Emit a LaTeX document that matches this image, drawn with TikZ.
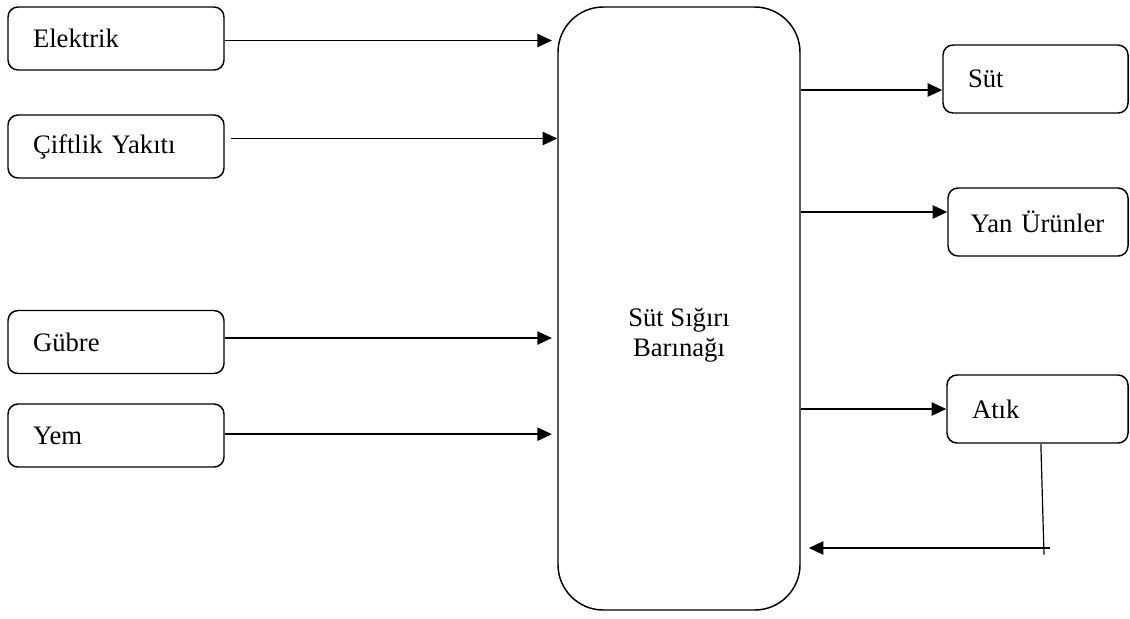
\documentclass[tikz,border=0pt]{standalone}
\usepackage{fontspec}
\setmainfont{Liberation Serif}
\usepackage{tikz}
\usepackage{xcolor}
\usetikzlibrary{arrows.meta}
\tikzset{
    input-box/.style = {draw=black, fill=white, line width=1.1pt, rectangle, rounded corners=7.5pt, minimum height=47.25pt, inner xsep=18.75pt, text width=124.5pt, align=left, font=\fontsize{20pt}{22.5pt}\selectfont},
    output-box/.style = {input-box, minimum height=51pt},
    barn-box/.style = {draw=black, fill=white, line width=1.1pt, rectangle, rounded corners=34pt, minimum width=181.5pt, minimum height=452.25pt},
    flow-arrow/.style = {line width=1.1pt, -{Triangle[length=11pt,width=10pt]}},
}

\begin{document}
\begin{tikzpicture}[x=0.75pt, y=-0.75pt]
\useasboundingbox (0,0) rectangle (1130,618);
% inputs
\node [input-box] (elektrik) at (116,38.5) {Elektrik};
\node [input-box] (yakit) at (116,146.5) {Çiftlik Yakıtı};
\node [input-box] (gubre) at (116,342) {Gübre};
\node [input-box] (yem) at (116,435.5) {Yem};
% barn
\node [barn-box] (barinak) at (679,308.5) {};
\node [align=center, font=\fontsize{20pt}{22.5pt}\selectfont] (barinak-text) at (679,335) {Süt Sığırı\\Barınağı};
% outputs
\node [output-box, text width=101.25pt] (sut) at (1035.5,79) {Süt};
\node [output-box, inner xsep=17pt, text width=101pt] (yan) at (1038,222) {Yan Ürünler};
\node [output-box, text width=98.25pt] (atik) at (1037.5,409) {Atık};
\coordinate (sut-in) at ([yshift=-8.25pt]sut.west);
\coordinate (yan-in) at ([yshift=7.5pt]yan.west);
\coordinate (donus) at (1042,548);

\draw [flow-arrow, shorten >=4pt] ([yshift=-1.5pt]elektrik.east) -- ([yshift=-1.5pt]elektrik.east -| barinak.west);
\draw [flow-arrow, shorten <=4.5pt] ([yshift=6pt]yakit.east) -- ([yshift=6pt]yakit.east -| barinak.west);
\draw [flow-arrow, shorten >=4pt] ([yshift=3pt]gubre.east) -- ([yshift=3pt]gubre.east -| barinak.west);
\draw [flow-arrow, shorten >=4pt] ([yshift=1pt]yem.east) -- ([yshift=1pt]yem.east -| barinak.west);

\draw [flow-arrow] (barinak.east |- sut-in) -- (sut-in);
\draw [flow-arrow] (barinak.east |- yan-in) -- (yan-in);
\draw [flow-arrow] (barinak.east |- atik.west) -- (atik.west);

% waste back to the barn
\draw [line width=0.9pt] ([xshift=2.5pt]atik.south) -- ([xshift=1.5pt, yshift=-5pt]donus);
\draw [flow-arrow, shorten >=6pt] ([xshift=6pt]donus) -- (barinak.east |- donus);
\end{tikzpicture}
\end{document}
